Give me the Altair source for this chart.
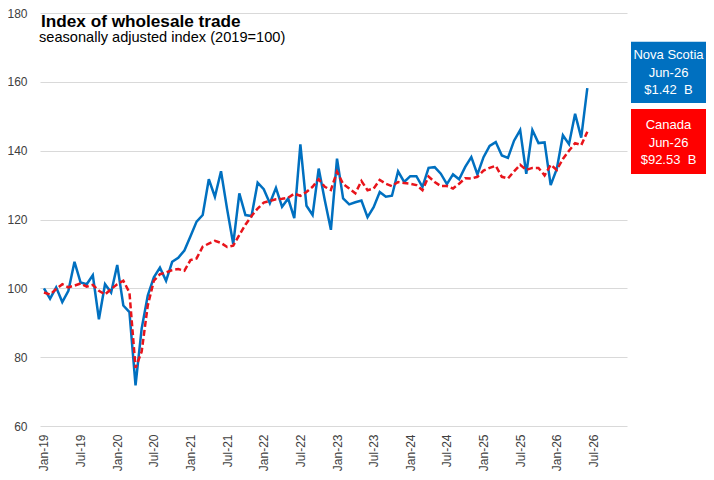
import altair as alt
import pandas as pd

# tick labels every 6 months, Jan-19 .. Jul-26
tick_labels = [
    "Jan-19", "Jul-19", "Jan-20", "Jul-20", "Jan-21", "Jul-21", "Jan-22", "Jul-22",
    "Jan-23", "Jul-23", "Jan-24", "Jul-24", "Jan-25", "Jul-25", "Jan-26", "Jul-26",
]

series_names = ["Nova Scotia", "Canada"]

# monthly index (2019=100), Jan-19 .. Jun-26
nova_scotia = [
    100.0, 97.0, 100.3, 96.0, 99.3, 107.7, 101.7, 101.2, 103.8, 91.0,
    101.2, 98.8, 106.8, 95.0, 93.1, 71.8, 88.3, 97.9, 103.2, 106.0,
    102.2, 107.7, 108.9, 111.0, 115.1, 119.4, 121.3, 131.7, 126.6, 134.0,
    123.0, 112.9, 127.6, 121.3, 121.0, 130.7, 128.8, 124.7, 129.2, 123.7,
    126.1, 120.4, 141.8, 124.0, 121.3, 134.8, 125.6, 117.0, 137.7, 126.1,
    124.4, 125.0, 125.5, 120.7, 123.6, 128.0, 126.6, 126.9, 134.0, 130.9,
    132.6, 132.6, 129.5, 135.0, 135.2, 133.3, 130.3, 133.1, 131.7, 135.3,
    138.1, 133.1, 138.1, 141.4, 142.5, 138.6, 137.9, 142.9, 146.0, 133.3,
    146.0, 142.2, 142.4, 130.0, 134.7, 144.5, 141.9, 150.7, 143.8, 158.2,
]
canada = [
    98.8, 98.2, 99.8, 101.2, 100.3, 100.8, 101.4, 100.5, 101.0, 99.3,
    98.2, 99.8, 101.2, 102.2, 98.8, 76.9, 81.6, 95.0, 102.2, 104.1,
    104.6, 105.3, 105.6, 105.1, 108.2, 108.7, 112.1, 113.0, 113.8, 113.2,
    112.0, 112.4, 115.5, 118.5, 121.0, 123.2, 124.9, 125.4, 125.9, 126.0,
    126.3, 127.5, 126.9, 128.0, 129.5, 131.7, 129.5, 128.6, 133.9, 130.3,
    129.0, 127.6, 131.2, 128.5, 129.0, 131.5, 130.4, 129.7, 130.9, 130.6,
    130.4, 130.0, 128.5, 132.5, 130.9, 129.7, 129.7, 129.0, 130.4, 132.0,
    131.9, 132.4, 134.2, 135.0, 135.6, 132.4, 131.9, 134.0, 135.9, 134.4,
    135.0, 135.0, 132.8, 135.9, 134.4, 137.6, 140.0, 142.2, 141.6, 145.5,
]

# latest-month call-outs
box_nova_scotia = ["Nova Scotia", "Jun-26", "$1.42\u00a0 B"]
box_canada = ["Canada", "Jun-26", "$92.53\u00a0 B"]

title_text = "Index of wholesale trade"
subtitle_text = "seasonally adjusted index (2019=100)"

BLUE = "#0070C0"
RED = "#E8141B"
FONT = "Liberation Sans"

df = pd.concat(
    [
        pd.DataFrame({"month": range(len(vals)), "value": vals, "region": name})
        for name, vals in zip(series_names, [nova_scotia, canada])
    ],
    ignore_index=True,
)

label_expr = "[" + ",".join(f"'{t}'" for t in tick_labels) + "][round(datum.value / 6)]"

x_enc = alt.X(
    "month:Q",
    scale=alt.Scale(domain=[-0.65, 95.5], nice=False, zero=False),
    axis=alt.Axis(
        values=list(range(0, 6 * len(tick_labels), 6)),
        labelExpr=label_expr,
        labelAngle=-90,
        labelPadding=8,
        grid=False,
        domain=False,
        ticks=False,
        title=None,
    ),
)
y_enc = alt.Y(
    "value:Q",
    scale=alt.Scale(domain=[60, 180], nice=False, zero=False),
    axis=alt.Axis(
        values=list(range(60, 181, 20)),
        labelPadding=13,
        grid=True,
        domain=False,
        ticks=False,
        title=None,
    ),
)

base = alt.Chart(df).encode(x=x_enc, y=y_enc)

ns_line = base.transform_filter(alt.datum.region == "Nova Scotia").mark_line(
    color=BLUE, strokeWidth=2.5
)
ca_line = base.transform_filter(alt.datum.region == "Canada").mark_line(
    color=RED, strokeWidth=2.5, strokeDash=[6, 3]
)

one = pd.DataFrame({"k": [0]})

title = alt.Chart(one).mark_text(
    align="left", baseline="alphabetic", font=FONT, fontSize=17.2,
    fontWeight="bold", color="black",
).encode(x=alt.value(1), y=alt.value(13.7), text=alt.value(title_text))

subtitle = alt.Chart(one).mark_text(
    align="left", baseline="alphabetic", font=FONT, fontSize=14.6, color="black",
).encode(x=alt.value(-1), y=alt.value(29.3), text=alt.value(subtitle_text))

box_style = dict(font=FONT, fontSize=13, color="white", lineHeight=17.6,
                 align="center", baseline="middle")

ns_box = alt.Chart(one).mark_rect(color=BLUE).encode(
    x=alt.value(591), x2=alt.value(666), y=alt.value(28.7), y2=alt.value(90)
)
ns_text = alt.Chart(one).mark_text(**box_style).encode(
    x=alt.value(628.5), y=alt.value(42), text=alt.value(box_nova_scotia)
)

ca_box = alt.Chart(one).mark_rect(color="#FF0000").encode(
    x=alt.value(591), x2=alt.value(666), y=alt.value(96), y2=alt.value(161)
)
ca_text = alt.Chart(one).mark_text(**box_style).encode(
    x=alt.value(628.5), y=alt.value(112), text=alt.value(box_canada)
)

chart = (
    alt.layer(ns_line, ca_line, title, subtitle, ns_box, ns_text, ca_box, ca_text)
    .properties(
        width=587,
        height=413,
        autosize=alt.AutoSizeParams(type="none"),
        padding={"left": 32, "top": 5, "right": 79, "bottom": 46},
    )
    .configure_view(strokeWidth=0)
    .configure_axis(
        labelFont=FONT,
        labelFontSize=12,
        labelColor="#404040",
        gridColor="#D9D9D9",
        gridWidth=1,
    )
)

chart.save("out.html", embed_options={"renderer": "svg", "actions": False})
